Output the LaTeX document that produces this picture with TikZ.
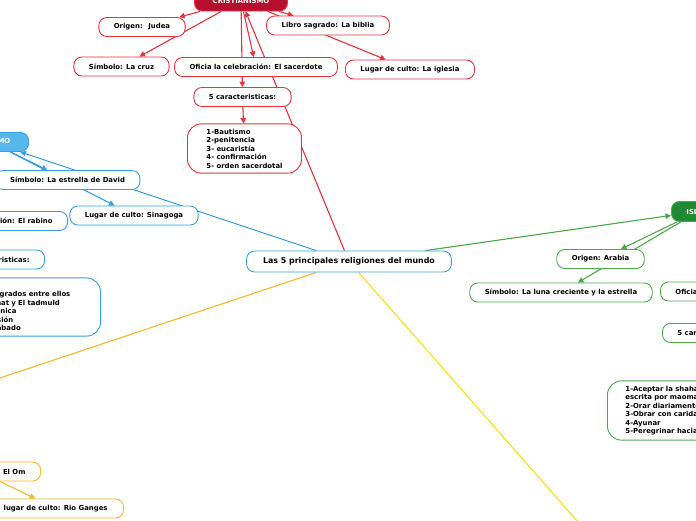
\documentclass[tikz,border=0pt]{standalone}
\usepackage{fontspec}
\setmainfont{DejaVu Sans}
\usetikzlibrary{shapes,arrows.meta}
\usetikzlibrary{positioning}
\usetikzlibrary{backgrounds}

\definecolor{rojo}{HTML}{E8323C}
\definecolor{rojoosc}{HTML}{B5102E}
\definecolor{azul}{HTML}{3A9FE2}
\definecolor{azulclaro}{HTML}{55B7EC}
\definecolor{verde}{HTML}{4DA84D}
\definecolor{verdeosc}{HTML}{1E8A36}
\definecolor{naranja}{HTML}{FBB72A}
\definecolor{amarillo}{HTML}{FFDF10}

\begin{document}
\begin{tikzpicture}[x=1pt,y=-1pt,
  every node/.style={font=\bfseries\fontsize{6.9}{8.5}\selectfont},
  tema/.style={draw,fill=white,rounded corners=8pt,minimum height=19pt,
    inner xsep=15pt,inner ysep=0pt,line width=0.9pt},
  lista/.style={tema,rounded corners=14pt,align=left,inner xsep=19pt,inner ysep=5pt},
  cabeza/.style={tema,text=white},
  flecha/.style={line width=1.1pt,-{Triangle[length=5.5pt,width=5.5pt]}}]

  \useasboundingbox (0,0) rectangle (696,520);

  % centro
  \node[tema,draw=azul,minimum height=21pt,inner xsep=16.5pt,
    font=\bfseries\fontsize{7.9}{9}\selectfont] (centro) at (349,261.5)
    {Las 5 principales religiones del mundo};

  % cristianismo
  \node[cabeza,draw=rojo,fill=rojoosc,minimum width=93pt,minimum height=21pt]
    (cristianismo) at (241,0.5) {CRISTIANISMO};
  \node[tema,draw=rojo] (c-origen) at (142,27) {Origen: \ Judea};
  \node[tema,draw=rojo] (c-libro) at (328,25.5) {Libro sagrado: La biblia};
  \node[tema,draw=rojo] (c-simbolo) at (121.5,66.5) {Símbolo: La cruz};
  \node[tema,draw=rojo] (c-oficia) at (256,67) {Oficia la celebración: El sacerdote};
  \node[tema,draw=rojo] (c-lugar) at (410,69.5) {Lugar de culto: La iglesia};
  \node[tema,draw=rojo] (c-carac) at (242.5,97) {5 caracteristicas:};
  \node[lista,draw=rojo] (c-lista) at (244.5,148.5)
    {1-Bautismo\\2-penitencia\\3- eucaristía\\4- confirmación\\5- orden sacerdotal};

  % judaismo
  \node[cabeza,draw=azul,fill=azulclaro,anchor=east,minimum width=76pt]
    (judaismo) at (29,142) {JUDAISMO};
  \node[tema,draw=azul] (j-simbolo) at (67.5,180) {Símbolo: La estrella de David};
  \node[tema,draw=azul] (j-lugar) at (134,215.5) {Lugar de culto: Sinagoga};
  \node[tema,draw=azul,anchor=east] (j-oficia) at (68,221)
    {Oficia la celebración: El rabino};
  \node[tema,draw=azul,anchor=east] (j-carac) at (45,259.5) {5 caracteristicas:};
  \node[lista,draw=azul,anchor=east,text width=150pt] (j-lista) at (101,307)
    {1-Monoteísmo\\2-Tienen libros sagrados entre ellos\\son la Torá, el Tanat y El tadmuld\\3-Religión abrahanica\\4-Ley de circuncisión\\5-Descansan el sábado};

  % islam
  \node[cabeza,draw=verde,fill=verdeosc,anchor=west,minimum height=20pt]
    (islam) at (671,211.5) {ISLAM};
  \node[tema,draw=verde] (i-origen) at (600.5,259) {Origen: Arabia};
  \node[tema,draw=verde] (i-simbolo) at (561,292.5)
    {Símbolo: La luna creciente y la estrella};
  \node[tema,draw=verde,anchor=west] (i-oficia) at (660,291.5)
    {Oficia la celebración: El imán};
  \node[tema,draw=verde,anchor=west] (i-carac) at (662,333) {5 caracteristicas:};
  \node[lista,draw=verde,anchor=west,inner xsep=18pt] (i-lista) at (607,410.5)
    {1-Aceptar la shahada\\escrita por maoma\\2-Orar diariamente\\3-Obrar con caridad\\4-Ayunar\\5-Peregrinar hacia la Meca};

  % hinduismo y budismo
  \coordinate (hinduismo) at (-126,420);
  \node[tema,draw=naranja,anchor=east] (h-simbolo) at (41,471.5) {Símbolo: El Om};
  \node[tema,draw=naranja,anchor=east,inner xsep=16pt] (h-lugar) at (124,508.5)
    {lugar de culto: Rio Ganges};
  \coordinate (budismo) at (600,547);

  %conectores
  \begin{scope}[on background layer]
    \draw[flecha,rojo] (centro) -- (cristianismo);
    \foreach \n in {c-origen,c-libro,c-simbolo,c-oficia,c-lugar,c-carac}
      \draw[flecha,rojo] (cristianismo) -- (\n);
    \draw[flecha,rojo] (c-carac) -- (c-lista);

    \draw[flecha,azul] (centro) -- (judaismo);
    \draw[flecha,azul] (judaismo) -- (j-simbolo);
    \draw[flecha,azul] (judaismo) -- (j-lugar);

    \draw[flecha,verde] (centro) -- (islam);
    \draw[flecha,verde] (islam) -- (i-origen);
    \draw[flecha,verde] (islam) -- (i-simbolo);

    \draw[flecha,naranja] (centro) -- (hinduismo);
    \draw[flecha,naranja] (hinduismo) -- (h-lugar);

    \draw[flecha,amarillo] (centro) -- (budismo);
  \end{scope}

\end{tikzpicture}
\end{document}
